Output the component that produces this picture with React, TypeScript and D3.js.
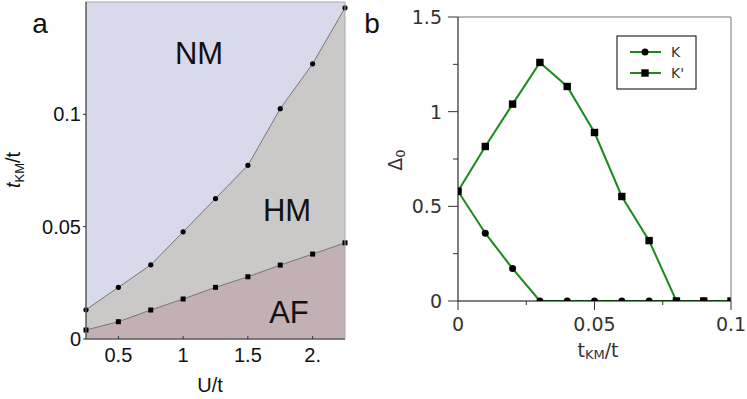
import * as d3 from "d3";

// panel a: phase diagram
const uValues = [0.25, 0.5, 0.75, 1.0, 1.25, 1.5, 1.75, 2.0, 2.25];
const upperBoundary = [0.013, 0.023, 0.033, 0.0477, 0.0625, 0.0773, 0.1025, 0.1225, 0.1474];
const lowerBoundary = [0.004, 0.0077, 0.0129, 0.0178, 0.023, 0.0277, 0.0329, 0.0378, 0.0428];
const aXTicks = [0.5, 1, 1.5, 2];
const aXTickLabels = ["0.5", "1", "1.5", "2."];
const aYTicks = [0, 0.05, 0.1];
const aYTickLabels = ["0", "0.05", "0.1"];

// panel b: gap vs t_KM
const tkmValues = [0, 0.01, 0.02, 0.03, 0.04, 0.05, 0.06, 0.07, 0.08, 0.09, 0.1];
const gapK = [0.58, 0.358, 0.171, 0, 0, 0, 0, 0, 0, 0, 0];
const gapKp = [0.58, 0.816, 1.04, 1.26, 1.133, 0.89, 0.552, 0.319, 0, 0, 0];
const bXTicks = [0, 0.05, 0.1];
const bXTickLabels = ["0", "0.05", "0.1"];
const bYTicks = [0, 0.5, 1, 1.5];
const bYTickLabels = ["0", "0.5", "1", "1.5"];
const legendLabels = ["K", "K'"];

const GREEN = "#1b8a1b";

function PanelA() {
  const x = d3.scaleLinear().domain([0.25, 2.25]).range([86, 345]);
  const y = d3.scaleLinear().domain([0, 0.15]).range([339, 2]);
  const up = uValues.map((u, i) => [u, upperBoundary[i]] as [number, number]);
  const lo = uValues.map((u, i) => [u, lowerBoundary[i]] as [number, number]);
  const line = d3.line<[number, number]>().x(d => x(d[0])).y(d => y(d[1]));
  const areaLow = d3.area<[number, number]>().x(d => x(d[0])).y0(y(0)).y1(d => y(d[1]));
  const areaMid = d3
    .area<[number, number]>()
    .x(d => x(d[0]))
    .y0((d, i) => y(lo[i][1]))
    .y1(d => y(d[1]));
  const font = "'Liberation Sans', Arial, sans-serif";
  return (
    <g fontFamily={font}>
      <rect x={86} y={2} width={259} height={337} fill="#d9d9ec" />
      <path d={areaMid(up) ?? ""} fill="#cbc8c8" />
      <path d={areaLow(lo) ?? ""} fill="#c2b0b4" />
      <path d={line(up) ?? ""} fill="none" stroke="#777" strokeWidth={1} />
      <path d={line(lo) ?? ""} fill="none" stroke="#777" strokeWidth={1} />
      {up.map((d, i) => (
        <circle key={"c" + i} cx={x(d[0])} cy={y(d[1])} r={2.6} fill="#000" />
      ))}
      {lo.map((d, i) => (
        <rect key={"s" + i} x={x(d[0]) - 2.5} y={y(d[1]) - 2.5} width={5} height={5} fill="#000" />
      ))}
      <rect x={86} y={2} width={259} height={337} fill="none" stroke="#aaa" strokeWidth={1} />
      <line x1={86} x2={86} y1={2} y2={339} stroke="#333" />
      <line x1={86} x2={345} y1={339} y2={339} stroke="#333" />
      {aYTicks.map((t, i) => (
        <g key={"yt" + i}>
          <line x1={83} x2={86} y1={y(t)} y2={y(t)} stroke="#333" />
          <text x={81} y={y(t) + 7} textAnchor="end" fontSize={20} fill="#111">
            {aYTickLabels[i]}
          </text>
        </g>
      ))}
      {aXTicks.map((t, i) => (
        <g key={"xt" + i}>
          <line x1={x(t)} x2={x(t)} y1={336} y2={339} stroke="#333" />
          <text x={x(t)} y={362} textAnchor="middle" fontSize={20} fill="#111">
            {aXTickLabels[i]}
          </text>
        </g>
      ))}
      <text x={210} y={392} textAnchor="middle" fontSize={20} fill="#111">
        U/t
      </text>
      <text transform="translate(20,170) rotate(-90)" textAnchor="middle" fontSize={20} fill="#111">
        <tspan fontStyle="italic">t</tspan>
        <tspan fontSize={13} dy={4}>KM</tspan>
        <tspan dy={-4}>/t</tspan>
      </text>
      <text x={199} y={64} textAnchor="middle" fontSize={31} fill="#111">NM</text>
      <text x={287} y={221} textAnchor="middle" fontSize={31} fill="#111">HM</text>
      <text x={289} y={323} textAnchor="middle" fontSize={31} fill="#111">AF</text>
      <text x={40} y={33} textAnchor="middle" fontSize={28} fill="#111">a</text>
    </g>
  );
}

function PanelB() {
  const left = 458, right = 731, top = 17, bottom = 301;
  const x = d3.scaleLinear().domain([0, 0.1]).range([left, right]);
  const y = d3.scaleLinear().domain([0, 1.5]).range([bottom, top]);
  const k = tkmValues.map((t, i) => [t, gapK[i]] as [number, number]);
  const kp = tkmValues.map((t, i) => [t, gapKp[i]] as [number, number]);
  const line = d3.line<[number, number]>().x(d => x(d[0])).y(d => y(d[1]));
  const font = "'DejaVu Sans', sans-serif";
  const minorX = d3.range(0, 0.1001, 0.025);
  const minorY = d3.range(0, 1.501, 0.25);
  return (
    <g fontFamily={font}>
      <defs>
        <clipPath id="clipB">
          <rect x={left} y={top} width={right - left} height={bottom - top} />
        </clipPath>
      </defs>
      <g clipPath="url(#clipB)">
        <path d={line(k) ?? ""} fill="none" stroke={GREEN} strokeWidth={2} />
        <path d={line(kp) ?? ""} fill="none" stroke={GREEN} strokeWidth={2} />
        {k.map((d, i) => (
          <circle key={"k" + i} cx={x(d[0])} cy={y(d[1])} r={3.5} fill="#000" />
        ))}
        {kp.map((d, i) => (
          <rect key={"kp" + i} x={x(d[0]) - 3.7} y={y(d[1]) - 3.7} width={7.4} height={7.4} fill="#000" />
        ))}
      </g>
      <line x1={left} x2={right} y1={top} y2={top} stroke="#777" />
      <line x1={right} x2={right} y1={top} y2={bottom} stroke="#777" />
      <line x1={left} x2={left} y1={top} y2={bottom} stroke="#000" />
      <line x1={left} x2={right} y1={bottom} y2={bottom} stroke="#000" />
      {minorX.map((t, i) => (
        <line key={"mx" + i} x1={x(t)} x2={x(t)} y1={bottom} y2={bottom + (i % 2 === 0 ? 9 : 4)} stroke="#333" />
      ))}
      {minorY.map((t, i) => (
        <line key={"my" + i} x1={left - (i % 2 === 0 ? 10 : 5)} x2={left} y1={y(t)} y2={y(t)} stroke="#333" />
      ))}
      {bXTicks.map((t, i) => (
        <text key={"bx" + i} x={x(t)} y={331} textAnchor="middle" fontSize={19} fill="#333">
          {bXTickLabels[i]}
        </text>
      ))}
      {bYTicks.map((t, i) => (
        <text key={"by" + i} x={442} y={y(t) + 7} textAnchor="end" fontSize={19} fill="#333">
          {bYTickLabels[i]}
        </text>
      ))}
      <text x={598} y={357} textAnchor="middle" fontSize={19} fill="#333">
        <tspan>t</tspan>
        <tspan fontSize={13} dy={2}>KM</tspan>
        <tspan dy={-2}>/t</tspan>
      </text>
      <text transform="translate(402,160) rotate(-90)" textAnchor="middle" fontSize={19} fill="#333">
        <tspan>Δ</tspan>
        <tspan fontSize={13} dy={3}>0</tspan>
      </text>
      <rect x={617} y={36} width={79} height={53} fill="#fff" stroke="#000" strokeWidth={1} />
      {legendLabels.map((lab, i) => {
        const ly = 52 + i * 21;
        return (
          <g key={"lg" + i}>
            <line x1={630} x2={661} y1={ly} y2={ly} stroke={GREEN} strokeWidth={2} />
            {i === 0 ? (
              <circle cx={645} cy={ly} r={3.5} fill="#000" />
            ) : (
              <rect x={641.3} y={ly - 3.7} width={7.4} height={7.4} fill="#000" />
            )}
            <text x={671} y={ly + 5} fontSize={14} fill="#333">
              {lab}
            </text>
          </g>
        );
      })}
      <text x={372} y={33} textAnchor="middle" fontSize={28} fill="#111" fontFamily="'Liberation Sans', Arial, sans-serif">
        b
      </text>
    </g>
  );
}

export default function App() {
  return (
    <svg
      width={747}
      height={399}
      style={{ position: "absolute", left: 0, top: 0, background: "#fff" }}
    >
      <rect width={747} height={399} fill="#fff" />
      <PanelA />
      <PanelB />
    </svg>
  );
}
